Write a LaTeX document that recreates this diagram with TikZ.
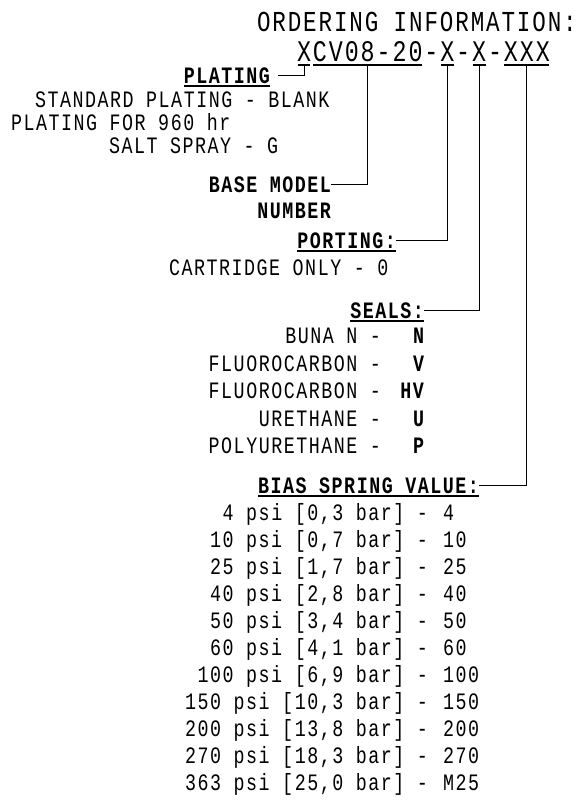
\documentclass[tikz,border=0pt]{standalone}
\usepackage{fontspec}
\setmainfont{Liberation Mono}[FakeStretch=0.78, LetterSpace=6.5]
\usetikzlibrary{positioning}

\tikzset{
  txt/.style={inner sep=0pt, outer sep=0pt, font=\fontsize{23.5}{26}\selectfont},
  head/.style={txt, font=\fontsize{23.5}{26}\selectfont\bfseries},
  titletxt/.style={inner sep=0pt, outer sep=0pt, font=\fontsize{28.9}{31}\selectfont},
  partno/.style={inner sep=0pt, outer sep=0pt, font=\fontsize{29.9}{32}\selectfont},
  leader/.style={line width=1pt},
  uline/.style={line width=1.2pt}
}

\begin{document}
\begin{tikzpicture}[x=1pt, y=-1pt]
\useasboundingbox (0,0) rectangle (581,800);

% title and part number
\node[titletxt, anchor=base west] (TI) at (257,32) {ORDERING INFORMATION:};
\node[partno, anchor=base west] (X1) at (297,62) {X};
\node[partno, base right=1.9pt of X1] (CV)  {CV08-20};
\node[partno, base right=1.9pt of CV] (h1)  {-};
\node[partno, base right=1.9pt of h1] (X2)  {X};
\node[partno, base right=1.9pt of X2] (h2)  {-};
\node[partno, base right=1.9pt of h2] (X3)  {X};
\node[partno, base right=1.9pt of X3] (h3)  {-};
\node[partno, base right=1.9pt of h3] (XXX) {XXX};

\draw[uline] ([xshift=0.5pt,yshift=-3pt]X1.base west)  -- ([xshift=-0.5pt,yshift=-3pt]X1.base east);
\draw[uline] ([xshift=0.5pt,yshift=-3pt]CV.base west)  -- ([xshift=-0.5pt,yshift=-3pt]CV.base east);
\draw[uline] ([xshift=0.5pt,yshift=-3pt]X2.base west)  -- ([xshift=-0.5pt,yshift=-3pt]X2.base east);
\draw[uline] ([xshift=0.5pt,yshift=-3pt]X3.base west)  -- ([xshift=-0.5pt,yshift=-3pt]X3.base east);
\draw[uline] ([xshift=0.5pt,yshift=-3pt]XXX.base west) -- ([xshift=-0.5pt,yshift=-3pt]XXX.base east);

% plating
\node[head, anchor=base east] (PL) at (270,83) {PLATING};
\node[txt, anchor=base west] (PLa) at (35,107)  {STANDARD PLATING - BLANK};
\node[txt, anchor=base west] (PLb) at (11,130)  {PLATING FOR 960 hr};
\node[txt, anchor=base west] (PLc) at (109,153) {SALT SPRAY - G};

% base model
\node[head, anchor=base east] (BM)  at (331,192) {BASE MODEL};
\node[head, anchor=base east] (BMn) at (331,218) {NUMBER};

% porting
\node[head, anchor=base east] (PO)  at (396,248) {PORTING:};
\node[txt, anchor=base west]  (POa) at (169,275) {CARTRIDGE ONLY - 0};

% seals
\node[head, anchor=base east] (SE) at (424,318) {SEALS:};
\node[txt, anchor=base east]  (SEn) at (381,343) {BUNA N -};
\node[head, anchor=base east] (cN)  at (424,343) {N};
\node[txt, anchor=base east]  (SEv) at (381,371) {FLUOROCARBON -};
\node[head, anchor=base east] (cV)  at (424,371) {V};
\node[txt, anchor=base east]  (SEh) at (381,398) {FLUOROCARBON -};
\node[head, anchor=base east] (cHV) at (424,398) {HV};
\node[txt, anchor=base east]  (SEu) at (381,426) {URETHANE -};
\node[head, anchor=base east] (cU)  at (424,426) {U};
\node[txt, anchor=base east]  (SEp) at (381,453) {POLYURETHANE -};
\node[head, anchor=base east] (cP)  at (424,453) {P};

% bias spring value
\node[head, anchor=base east] (BS) at (479,493) {BIAS SPRING VALUE:};
\node[txt, anchor=base east] (s4)   at (428,520) {4 psi [0,3 bar] -};
\node[txt, anchor=base west] (v4)   at (443,520) {4};
\node[txt, anchor=base east] (s10)  at (428,547) {10 psi [0,7 bar] -};
\node[txt, anchor=base west] (v10)  at (443,547) {10};
\node[txt, anchor=base east] (s25)  at (428,574) {25 psi [1,7 bar] -};
\node[txt, anchor=base west] (v25)  at (443,574) {25};
\node[txt, anchor=base east] (s40)  at (428,601) {40 psi [2,8 bar] -};
\node[txt, anchor=base west] (v40)  at (443,601) {40};
\node[txt, anchor=base east] (s50)  at (428,628) {50 psi [3,4 bar] -};
\node[txt, anchor=base west] (v50)  at (443,628) {50};
\node[txt, anchor=base east] (s60)  at (428,655) {60 psi [4,1 bar] -};
\node[txt, anchor=base west] (v60)  at (443,655) {60};
\node[txt, anchor=base east] (s100) at (428,682) {100 psi [6,9 bar] -};
\node[txt, anchor=base west] (v100) at (443,682) {100};
\node[txt, anchor=base east] (s150) at (428,709) {150 psi [10,3 bar] -};
\node[txt, anchor=base west] (v150) at (443,709) {150};
\node[txt, anchor=base east] (s200) at (428,736) {200 psi [13,8 bar] -};
\node[txt, anchor=base west] (v200) at (443,736) {200};
\node[txt, anchor=base east] (s270) at (428,763) {270 psi [18,3 bar] -};
\node[txt, anchor=base west] (v270) at (443,763) {270};
\node[txt, anchor=base east] (s363) at (428,790) {363 psi [25,0 bar] -};
\node[txt, anchor=base west] (v363) at (443,790) {M25};

% heading underlines
\draw[uline] ([yshift=-3pt]PL.base west) -- ([yshift=-3pt]PL.base east);
\draw[uline] ([yshift=-3pt]PO.base west) -- ([yshift=-3pt]PO.base east);
\draw[uline] ([yshift=-3pt]SE.base west) -- ([yshift=-3pt]SE.base east);
\draw[uline] ([yshift=-3pt]BS.base west) -- ([yshift=-3pt]BS.base east);

% leaders
\draw[leader] ([xshift=8pt]PL.east) -| ([yshift=-3pt]X1.base);
\draw[leader] (BM.east) -| ([yshift=-3pt]CV.base);
\draw[leader] (PO.east) -| ([yshift=-3pt]X2.base);
\draw[leader] (SE.east) -| ([yshift=-3pt]X3.base);
\draw[leader] (BS.east) -| ([yshift=-3pt]XXX.base);
\end{tikzpicture}
\end{document}
